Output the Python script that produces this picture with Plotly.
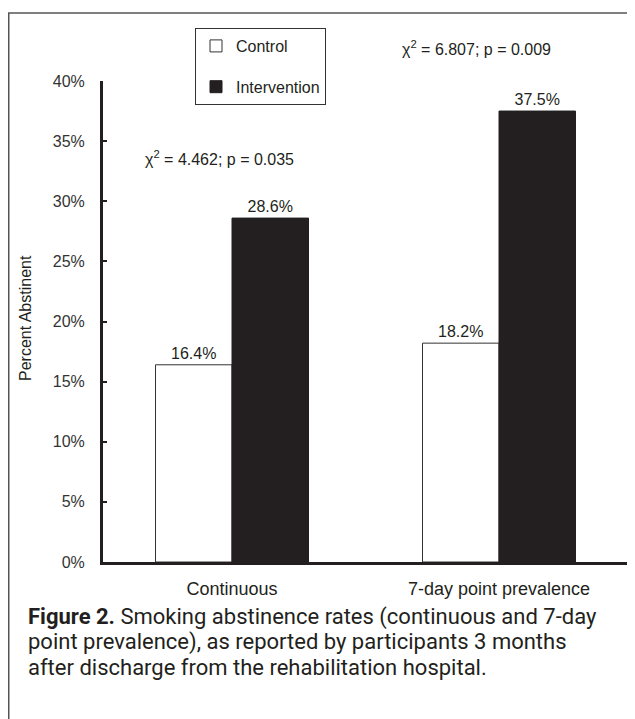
import plotly.graph_objects as go

categories = ["Continuous", "7-day point prevalence"]
control = [16.4, 18.2]
intervention = [28.6, 37.5]
y_ticks = [0, 5, 10, 15, 20, 25, 30, 35, 40]
y_tick_labels = [f"{v}%" for v in y_ticks]
chi_texts = ["χ<sup>2</sup> = 4.462; p = 0.035", "χ<sup>2</sup> = 6.807; p = 0.009"]
caption_lines = [
    "<b>Figure 2.</b> Smoking abstinence rates (continuous and 7-day",
    "point prevalence), as reported by participants 3 months",
    "after discharge from the rehabilitation hospital.",
]

# page body adds an 8px offset; figure is sized to fit the window
OFF = 8
W, H = 627, 711
L, R, T, B = 95, 2, 73, 157
PW, PH = W - L - R, H - T - B

def px(x):
    return (x - OFF - L) / PW

def py(y):
    return (H - B - (y - OFF)) / PH

FONT = "Liberation Sans, Arial, sans-serif"
DARK = "#231f20"
TXT = "#231f20"

fig = go.Figure()
fig.add_trace(go.Bar(
    x=list(range(len(categories))), y=control, name="Control",
    marker=dict(color="white", line=dict(color="#333333", width=1)),
    text=[f"{v:.1f}%" for v in control], textposition="outside", constraintext="none",
    textfont=dict(size=16, color=TXT), cliponaxis=False, legendgroup="c",
))
fig.add_trace(go.Bar(
    x=list(range(len(categories))), y=intervention, name="Intervention",
    marker=dict(color=DARK, line=dict(color=DARK, width=1)),
    text=[f"{v:.1f}%" for v in intervention], textposition="outside", constraintext="none",
    textfont=dict(size=16, color=TXT), cliponaxis=False, legendgroup="i",
))

c0 = 224  # figure-pixel centre of first category
step = 267
fig.update_layout(
    width=W, height=H,
    margin=dict(l=L, r=R, t=T, b=B, pad=0),
    paper_bgcolor="white", plot_bgcolor="white",
    font=dict(family=FONT, size=16, color=TXT),
    barmode="group", bargap=0.427, bargroupgap=0,
    showlegend=True,
    legend=dict(
        x=px(195), y=py(28), xanchor="left", yanchor="top",
        bordercolor="#333", borderwidth=1, bgcolor="white",
        font=dict(size=16, color=TXT),
        tracegroupgap=17, traceorder="grouped",
        entrywidth=116, entrywidthmode="pixels",
    ),
    xaxis=dict(
        tickmode="array", tickvals=list(range(len(categories))), ticktext=categories,
        range=[(L - c0) / step, (L + PW - c0) / step],
        showline=True, linewidth=3, linecolor=DARK, ticks="",
        showgrid=False, zeroline=False,
        tickfont=dict(size=18, color=TXT),
        ticklabelstandoff=8,
    ),
    yaxis=dict(
        range=[0, 40], tickmode="array", tickvals=y_ticks, ticktext=y_tick_labels,
        showline=True, linewidth=3, linecolor=DARK,
        ticks="inside", ticklen=4, tickwidth=2, tickcolor=DARK,
        showgrid=False, zeroline=False,
        tickfont=dict(size=16, color="#333"),
        ticklabelstandoff=12,
    ),
)

# y-axis title
fig.add_annotation(x=px(25), y=py(318), xref="paper", yref="paper",
                   text="Percent Abstinent", textangle=-90, showarrow=False,
                   xanchor="center", yanchor="middle",
                   font=dict(size=16, color=TXT))

fig.add_annotation(x=px(143), y=py(158), xref="paper", yref="paper",
                   text=chi_texts[0], showarrow=False, xanchor="left", yanchor="middle",
                   font=dict(size=16, color=TXT))
fig.add_annotation(x=px(400), y=py(48), xref="paper", yref="paper",
                   text=chi_texts[1], showarrow=False, xanchor="left", yanchor="middle",
                   font=dict(size=16, color=TXT))

# outer frame
fig.add_shape(type="rect", xref="paper", yref="paper",
              x0=px(OFF + 0.75), x1=px(700), y0=py(13), y1=py(760),
              line=dict(color="#555", width=1.5), fillcolor="rgba(0,0,0,0)", layer="below")

CAP_FONT = "Roboto, sans-serif"
for k, line in enumerate(caption_lines):
    fig.add_annotation(x=px(26), y=py(617 + 25 * k), xref="paper", yref="paper",
                       text=line, showarrow=False, xanchor="left", yanchor="middle",
                       font=dict(family=CAP_FONT, size=22, color=TXT))

fig.write_html("out.html")
